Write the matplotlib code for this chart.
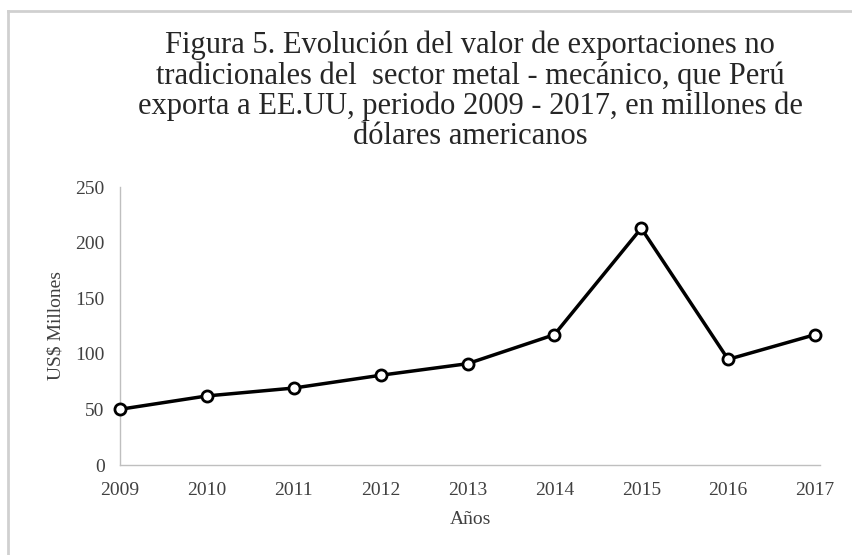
import matplotlib
matplotlib.use("Agg")
import matplotlib.pyplot as plt
from matplotlib.lines import Line2D

years = [2009, 2010, 2011, 2012, 2013, 2014, 2015, 2016, 2017]
values = [50.1, 62.1, 69.2, 80.7, 91.1, 117.2, 212.9, 95.0, 117.2]
yticks = [0, 50, 100, 150, 200, 250]
title = ("Figura 5. Evolución del valor de exportaciones no\n"
         "tradicionales del  sector metal - mecánico, que Perú\n"
         "exporta a EE.UU, periodo 2009 - 2017, en millones de\n"
         "dólares americanos")

plt.rcParams['font.family'] = ['Liberation Serif', 'DejaVu Serif']

fig = plt.figure(figsize=(8.52, 5.55), dpi=100)
W, H = 852, 555
ax = fig.add_axes([120 / W, (H - 465) / H, 700 / W, 278 / H])

ax.plot(years, values, color='black', lw=2.5, marker='o', markersize=8,
        markerfacecolor='white', markeredgecolor='black', markeredgewidth=2,
        zorder=3, clip_on=False)

ax.set_xlim(2009, 2017 + 5 / 87)
ax.set_ylim(0, 250)
ax.set_xticks(years)
ax.set_xticklabels([str(y) for y in years])
ax.set_yticks(yticks)
ax.tick_params(axis='both', length=0, labelsize=14, colors='#404040')
ax.tick_params(axis='x', pad=12)
ax.tick_params(axis='y', pad=11)
for s in ['top', 'right']:
    ax.spines[s].set_visible(False)
for s in ['left', 'bottom']:
    ax.spines[s].set_color('#bfbfbf')
    ax.spines[s].set_linewidth(1.0)

ax.set_xlabel('Años', fontsize=14, color='#404040', labelpad=9)
ax.set_ylabel('US$ Millones', fontsize=14, color='#404040', labelpad=8)

fig.text(470 / W, 1 - 91 / H, title, ha='center', va='center',
         fontsize=22, color='#262626', linespacing=1.04)

# light frame on left and top
fig.add_artist(Line2D([8 / W, 8 / W], [0, 1 - 11 / H], color='#d0d0d0', lw=2,
                      transform=fig.transFigure))
fig.add_artist(Line2D([8 / W, 1], [1 - 11 / H, 1 - 11 / H], color='#d0d0d0', lw=2,
                      transform=fig.transFigure))

fig.savefig('out.png', dpi=100, facecolor='white')
